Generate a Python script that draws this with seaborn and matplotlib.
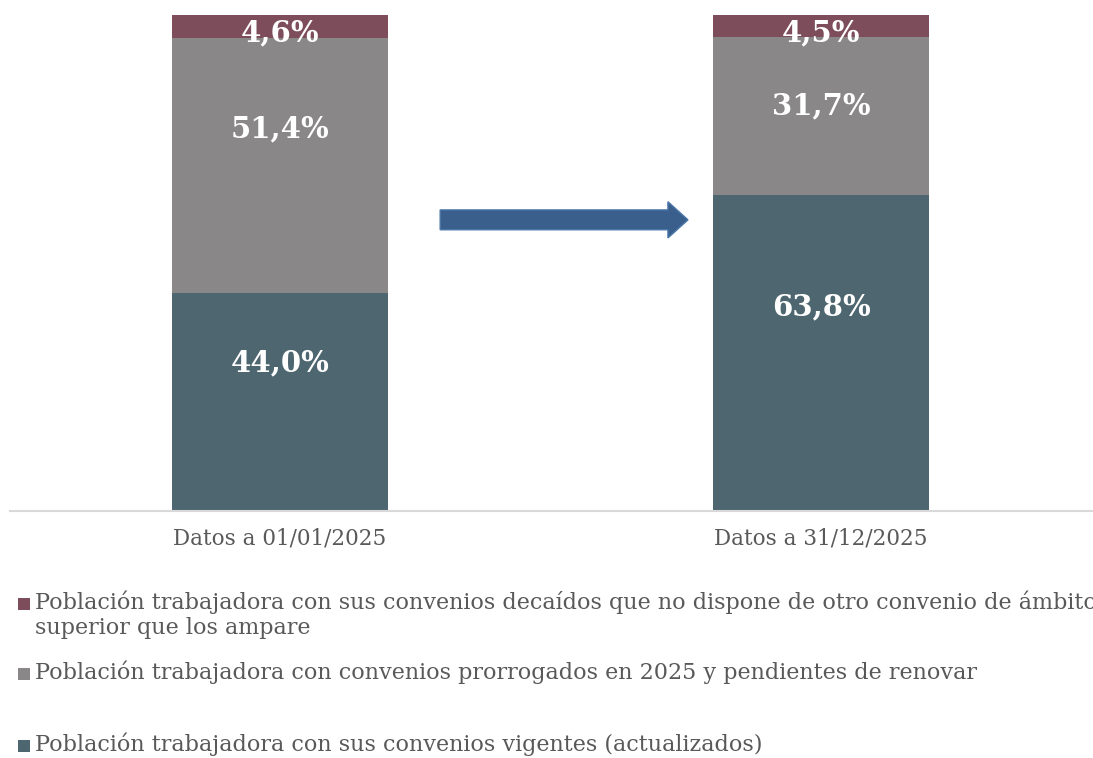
import matplotlib
matplotlib.use("Agg")
import matplotlib.pyplot as plt
from matplotlib.patches import FancyArrow, Rectangle
import pandas as pd
import seaborn as sns

# data
categories = ["Datos a 01/01/2025", "Datos a 31/12/2025"]
vigentes = [44.0, 63.8]
prorrogados = [51.4, 31.7]
decaidos = [4.6, 4.5]

series_labels = [
    "Población trabajadora con sus convenios decaídos que no dispone de otro convenio de ámbito\nsuperior que los ampare",
    "Población trabajadora con convenios prorrogados en 2025 y pendientes de renovar",
    "Población trabajadora con sus convenios vigentes (actualizados)",
]
colors = ["#7E4D5B", "#898787", "#4E6670"]  # decaidos, prorrogados, vigentes

# nudges for the value labels (data units, relative to segment centre)
label_nudge = {"vig": [7.9, 9.3], "pro": [7.3, 2.0], "dec": [-1.4, -1.4]}

sns.set_theme(style="white")
plt.rcParams["font.family"] = ["DejaVu Serif"]

df = pd.DataFrame({"cat": categories, "vig": vigentes, "pro": prorrogados, "dec": decaidos})
df["b_pro"] = df["vig"]
df["b_dec"] = df["vig"] + df["pro"]

fig = plt.figure(figsize=(10.93, 7.58), dpi=100)
ax = fig.add_axes([0.0087, 0.3259, 0.99, 0.6543])

sns.barplot(data=df, x="cat", y="vig", color=colors[2], width=0.4, ax=ax,
            saturation=1, linewidth=0)
sns.barplot(data=df, x="cat", y="pro", color=colors[1], width=0.4, ax=ax,
            saturation=1, linewidth=0, bottom=df["b_pro"])
sns.barplot(data=df, x="cat", y="dec", color=colors[0], width=0.4, ax=ax,
            saturation=1, linewidth=0, bottom=df["b_dec"])

bottoms = {"vig": [0, 0], "pro": list(df["b_pro"]), "dec": list(df["b_dec"])}
for key in ["vig", "pro", "dec"]:
    for i, v in enumerate(df[key]):
        y = bottoms[key][i] + v / 2 + label_nudge[key][i]
        ax.text(i, y, f"{v:.1f}".replace(".", ",") + "%", ha="center", va="center",
                color="white", fontsize=21, fontweight="bold")

ax.set_xlim(-0.5, 1.5)
ax.set_ylim(0, 100)
ax.set_xlabel("")
ax.set_ylabel("")
ax.set_yticks([])
for s in ["top", "right", "left"]:
    ax.spines[s].set_visible(False)
ax.spines["bottom"].set_color("#D9D9D9")
ax.spines["bottom"].set_linewidth(1.5)
ax.tick_params(axis="x", length=0, pad=12, labelsize=15.5, labelcolor="#595959")

# arrow between bars
arrow = FancyArrow(0.296, 58.7, 0.458 - 0.037, 0, width=4.0, head_width=7.3,
                   head_length=0.037, length_includes_head=False,
                   facecolor="#3B5F8C", edgecolor="#4A76A8", linewidth=1)
ax.add_patch(arrow)

# legend (the first label runs past the right edge, as in the original)
leg_y = [604, 674, 746]
for lbl, col, yp in zip(series_labels, colors, leg_y):
    fig.patches.append(Rectangle((18 / 1093, 1 - (yp + 6) / 758), 12 / 1093, 12 / 758,
                                 transform=fig.transFigure, facecolor=col,
                                 edgecolor="none"))
    fig.text(35 / 1093, 1 - (yp - 13) / 758, lbl, ha="left", va="top",
             fontsize=16, color="#595959", linespacing=1.15)

fig.savefig("out.png", dpi=100)
